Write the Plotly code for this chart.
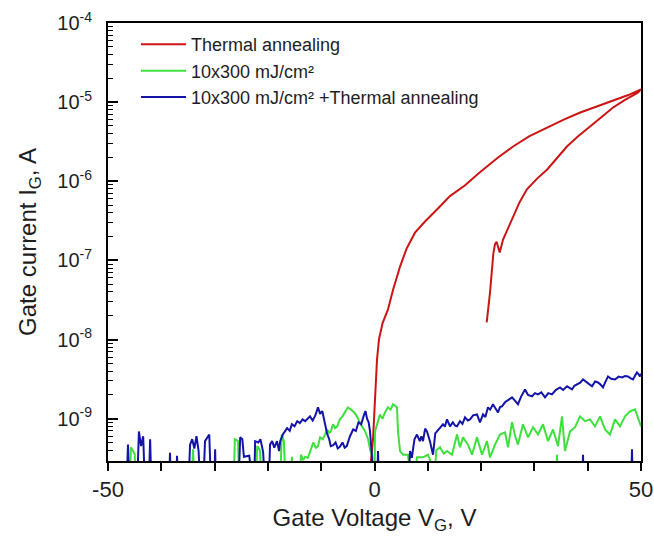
import plotly.graph_objects as go

# ---------------- data ----------------
FLOOR = 1e-10  # values below the visible range (clipped at the axis)

red_x = [-0.9, -0.66, -0.28, 0.09, 0.47, 0.84, 1.5, 2.53, 3.5, 4.78, 6.0, 7.6, 9.47, 12.0, 14.16,
         17.0, 19.5, 23.0, 26.0, 29.0, 32.4, 35.5, 38.6, 41.5, 44.7, 47.5, 50.0,
         49.4, 47.0, 44.7, 42.5, 40.4, 38.2, 36.1, 34.2, 32.4, 30.5, 28.6, 27.2, 26.0, 25.0,
         24.1, 23.5, 22.9, 22.6, 22.3, 21.67, 21.05]
red_y = [1e-10, 2.9e-10, 5.5e-10, 1.74e-9, 5.6e-9, 1.0e-8, 1.6e-8, 2.4e-8, 4.3e-8, 8.3e-8, 1.4e-7,
         2.24e-7, 3.1e-7, 4.6e-7, 6.5e-7, 8.9e-7, 1.25e-6, 1.95e-6, 2.75e-6, 3.7e-6, 4.8e-6,
         6.0e-6, 7.4e-6, 8.7e-6, 1.02e-5, 1.22e-5, 1.45e-5,
         1.32e-5, 1.07e-5, 8.5e-6, 6.4e-6, 4.9e-6, 3.7e-6, 2.75e-6, 1.95e-6, 1.41e-6, 1.08e-6,
         7.9e-7, 5.4e-7, 3.55e-7, 2.5e-7, 1.82e-7, 1.26e-7, 1.72e-7, 1.6e-7, 1.23e-7, 3.9e-8, 1.65e-8]

green_x = [-50, -46.0, -45.7, -45.3, -45.0, -44.6,
           -34.4, -34.05, -33.7,
           -26.5, -26.2, -25.6, -25.3,
           -22.4, -22.0, -21.5, -21.0,
           -17.8, -17.4, -17.0, -16.6,
           -15.8, -15.5, -15.1, -14.2, -13.8, -13.4, -13.0, -12.5, -12.1, -11.5, -11.0, -10.6,
           -10.2, -9.7, -9.3, -8.9, -8.5, -8.2, -7.8, -7.4, -7.0, -6.5, -6.0, -5.5, -5.0, -4.4,
           -3.8, -3.3, -2.6, -1.8, -1.2, -0.8, -0.4, -0.2,
           0.0, 0.09, 0.5, 1.03, 1.5, 1.97, 2.53, 3.0, 3.47, 3.9, 4.22, 4.41, 4.79, 5.35, 6.29,
           7.04, 7.97, 9.1, 10.04, 10.5, 10.98, 11.6, 12.29, 13.0, 13.6, 14.54, 15.48, 16.04,
           16.61, 17.54, 18.29, 19.23, 20.17, 21.11, 21.67, 22.61, 23.55, 24.49, 25.05, 25.8,
           26.4, 26.92, 27.86, 28.8, 29.74, 30.68, 31.61, 32.55, 33.49, 34.43, 35.18, 35.74,
           36.68, 37.62, 38.56, 39.5, 40.43, 41.37, 42.31, 43.25, 44.19, 45.12, 46.06, 47.0,
           47.94, 48.88, 49.44, 49.81, 50.0,
           None, 34.0, 34.24, 34.5]
green_y = [FLOOR, FLOOR, 4.35e-10, 3.8e-10, 3.6e-10, FLOOR,
           FLOOR, 4.1e-10, FLOOR,
           FLOOR, 5.5e-10, 5.2e-10, FLOOR,
           FLOOR, 4.5e-10, 4.0e-10, FLOOR,
           FLOOR, 6.3e-10, 5.2e-10, FLOOR,
           FLOOR, 3.3e-10, FLOOR, FLOOR, 3.5e-10, 3.0e-10, 3.3e-10, 3.2e-10, 3.8e-10, 5.0e-10,
           4.3e-10, 4.5e-10,
           5.8e-10, 5.5e-10, 6.3e-10, 7.3e-10, 6.6e-10, 6.9e-10, 8.5e-10, 7.6e-10, 8.0e-10,
           9.8e-10, 1.07e-9, 1.2e-9, 1.39e-9, 1.3e-9,
           1.2e-9, 1.07e-9, 8.5e-10, 7.0e-10, 5.5e-10, 4.0e-10, 3.3e-10, FLOOR,
           FLOOR, 6.9e-10, 8.5e-10, 1.13e-9, 1.0e-9, 1.2e-9, 1.39e-9, 1.3e-9, 1.52e-9, 1.45e-9,
           1.39e-9, 6.9e-10, 3.9e-10, 3.5e-10, 3.5e-10,
           FLOOR, 3.25e-10, 3.25e-10, 3.5e-10, 2.9e-10, FLOOR, 4.0e-10, 4.35e-10, 3.6e-10,
           3.9e-10, 3.5e-10, 6.3e-10, 4.35e-10,
           5.8e-10, 4.7e-10, 3.5e-10, 5.8e-10, 3.5e-10, 5.2e-10, 3.25e-10, 4.7e-10, 6.3e-10,
           6.7e-10, 4.35e-10, 9.0e-10,
           6.0e-10, 4.7e-10, 8.5e-10, 5.8e-10, 7.8e-10, 6.3e-10, 8.5e-10, 5.2e-10, 7.3e-10,
           4.5e-10, 1.07e-9, 3.9e-10,
           6.9e-10, 7.8e-10, 1.07e-9, 9.3e-10, 9.8e-10, 8.0e-10, 1.07e-9, 7.3e-10, 6.3e-10,
           9.8e-10, 8.0e-10, 1.07e-9,
           1.24e-9, 1.31e-9, 1.04e-9, 8.5e-10, 8.0e-10,
           None, FLOOR, 3.5e-10, FLOOR]

blue_x = [-50, -46.6, -46.25, -45.9,
          -44.6, -44.2, -43.8, -43.4, -43.0,
          -42.4, -42.1, -41.8,
          -38.6, -38.37, -38.1,
          -37.3, -37.05, -36.8,
          -35.0, -34.6, -34.2, -33.8, -33.4, -33.0, -32.6,
          -32.2, -31.8, -31.0, -30.6,
          -30.1, -29.9, -29.7,
          -25.6, -25.2, -24.8, -24.5, -23.5, -22.8,
          -22.6, -22.4, -21.8, -21.4, -20.9, -20.4, -19.9,
          -19.6, -19.2, -18.8, -18.3, -17.9, -17.7, -17.2, -16.8, -16.4, -15.9, -15.5, -15.0,
          -14.5, -14.0, -13.5, -13.0, -12.5, -12.1, -11.6, -11.1, -10.6, -10.2, -9.8, -9.3,
          -8.9, -8.5, -8.2, -7.8, -7.3, -6.9, -6.5, -6.0, -5.6, -5.2, -4.6, -4.0, -3.5, -3.0,
          -2.5, -2.0, -1.7, -1.4, -1.1, -0.84, -0.5, -0.3,
          0.4, 0.66, 0.9,
          6.3, 6.66, 7.0, 7.5, 7.97, 8.5, 8.8, 9.1, 9.5, 9.85, 10.4, 10.98, 11.4, 11.73, 12.3,
          12.85, 13.2, 13.6, 14.17, 14.7, 15.1, 15.48, 16.04, 16.5, 16.98, 17.5, 17.92, 18.5,
          19.23, 19.79, 20.36, 20.8, 21.29, 21.7, 22.23, 22.7, 23.17, 23.55, 23.92, 24.49, 25.0,
          25.8, 26.3, 26.92, 27.5, 28.24, 28.8, 29.55, 30.1, 30.68, 31.3, 31.99, 32.6, 33.3,
          34.0, 34.8, 35.4, 36.12, 36.6, 37.06, 37.5, 37.99, 38.6, 39.12, 39.8, 40.4, 40.81,
          41.4, 41.93, 42.4, 42.87, 43.3, 43.81, 44.4, 45.12, 45.8, 46.44, 47.0, 47.56, 48.0,
          48.5, 48.9, 49.25, 49.6, 49.81, 50.0,
          None, 38.9, 39.12, 39.3, None, 48.1, 48.31, 48.5]
blue_y = [FLOOR, FLOOR, 4.7e-10, FLOOR,
          FLOOR, 6.9e-10, 4.5e-10, 6.0e-10, FLOOR,
          FLOOR, 5.5e-10, FLOOR,
          FLOOR, 3.7e-10, FLOOR,
          FLOOR, 3.4e-10, FLOOR,
          FLOOR, 4.7e-10, 5.5e-10, 4.2e-10, 6.0e-10, 3.9e-10, FLOOR,
          FLOOR, 5.2e-10, 6.3e-10, FLOOR,
          FLOOR, 4.1e-10, FLOOR,
          FLOOR, 5.8e-10, 5.5e-10, 3.3e-10, 3.4e-10, FLOOR,
          FLOOR, 5.2e-10, 5.0e-10, 5.5e-10, 3.8e-10, FLOOR, FLOOR,
          4.7e-10, 5.2e-10, 4.3e-10, 5.2e-10, 3.9e-10, 5.2e-10, 6.3e-10, 7.0e-10, 7.6e-10,
          7.0e-10, 8.5e-10, 8.0e-10,
          9.3e-10, 8.8e-10, 9.8e-10, 9.3e-10, 1.0e-9, 1.07e-9, 9.5e-10, 1.1e-9, 1.39e-9,
          1.15e-9, 1.25e-9, 9.0e-10,
          6.5e-10, 5.5e-10, 4.5e-10, 4.6e-10, 5.0e-10, 4.2e-10, 4.4e-10, 5.0e-10, 4.3e-10,
          4.5e-10, 6.0e-10, 7.3e-10, 7.0e-10, 9.0e-10,
          8.5e-10, 1.1e-9, 1.25e-9, 1.0e-9, 9.0e-10, 6.9e-10, 3.5e-10, FLOOR,
          FLOOR, 3.9e-10, FLOOR,
          FLOOR, 3.9e-10, 3.2e-10, 5.5e-10, 6.3e-10, 5.2e-10, 6.0e-10, 5.2e-10, 7.5e-10,
          6.9e-10, 5.2e-10, 3.5e-10, 6.5e-10, 6.9e-10, 7.8e-10,
          8.5e-10, 7.9e-10, 9.8e-10, 8.0e-10, 9.0e-10, 8.2e-10, 8.0e-10, 9.3e-10, 8.6e-10,
          1.04e-9, 9.5e-10, 9.8e-10, 1.1e-9,
          1.13e-9, 9.0e-10, 1.13e-9, 1.05e-9, 1.39e-9, 1.3e-9, 1.52e-9, 1.35e-9, 1.2e-9,
          1.4e-9, 1.43e-9, 1.61e-9, 1.7e-9,
          1.86e-9, 1.7e-9, 1.52e-9, 1.9e-9, 2.34e-9, 2.0e-9, 1.91e-9, 2.1e-9, 2.03e-9,
          2.15e-9, 1.86e-9, 2.1e-9, 2.03e-9,
          2.3e-9, 2.48e-9, 2.3e-9, 2.56e-9, 2.45e-9, 2.34e-9, 2.6e-9, 2.71e-9, 2.85e-9,
          3.13e-9, 2.9e-9, 2.75e-9, 2.56e-9,
          2.95e-9, 2.87e-9, 2.7e-9, 2.48e-9, 2.9e-9, 3.42e-9, 3.2e-9, 3.13e-9, 3.4e-9,
          3.32e-9, 3.45e-9, 3.42e-9, 3.25e-9,
          3.13e-9, 3.5e-9, 3.84e-9, 3.6e-9, 3.42e-9, 3.7e-9,
          None, FLOOR, 3.5e-10, FLOOR, None, FLOOR, 4.1e-10, FLOOR]

series_names = ["Thermal annealing",
                "10x300 mJ/cm²",
                "10x300 mJ/cm² +Thermal annealing"]
y_tick_vals = [1e-9, 1e-8, 1e-7, 1e-6, 1e-5, 1e-4]
y_tick_text = ["10<sup>-9</sup>", "10<sup>-8</sup>", "10<sup>-7</sup>",
               "10<sup>-6</sup>", "10<sup>-5</sup>", "10<sup>-4</sup>"]
x_tick_vals = [-50, 0, 50]
x_tick_text = ["-50", "0", "50"]
x_minor_vals = [-40, -30, -20, -10, 10, 20, 30, 40]
y_minor_vals = [k * 10.0 ** e for e in range(-10, -4) for k in range(2, 10)]

# ---------------- figure ----------------
FONT = "Liberation Sans, Arial, sans-serif"
TXT = "#1e1e1e"
colors = ["#cc1414", "#3ee03e", "#1414a8"]

fig = go.Figure()
for name, xs, ys, c in [(series_names[0], red_x, red_y, colors[0]),
                        (series_names[1], green_x, green_y, colors[1]),
                        (series_names[2], blue_x, blue_y, colors[2])]:
    fig.add_trace(go.Scatter(x=xs, y=ys, mode="lines", name=name,
                             line=dict(color=c, width=2), connectgaps=False))

fig.update_layout(
    width=654, height=542,
    margin=dict(l=108, r=13, t=23, b=81, autoexpand=False),
    paper_bgcolor="white", plot_bgcolor="white",
    font=dict(family=FONT, color=TXT),
    showlegend=True,
    legend=dict(x=0.0525, y=0.993, xanchor="left", yanchor="top",
                font=dict(family=FONT, size=18, color=TXT), itemwidth=45,
                bgcolor="rgba(0,0,0,0)", borderwidth=0, tracegroupgap=0),
)
fig.update_xaxes(
    range=[-50, 50], showgrid=False, zeroline=False, automargin=False,
    showline=True, linecolor="black", linewidth=2, mirror=True,
    tickmode="array", tickvals=x_tick_vals, ticktext=x_tick_text,
    ticks="outside", ticklen=8, tickwidth=1.5, tickcolor="black",
    minor=dict(tickmode="array", tickvals=x_minor_vals, ticks="outside", ticklen=8,
               tickwidth=1.5, tickcolor="black"),
    tickfont=dict(family=FONT, size=22, color=TXT),
    title=dict(text="Gate Voltage V<sub>G</sub>, V", font=dict(family=FONT, size=24, color=TXT),
               standoff=8),
)
fig.update_yaxes(
    type="log", range=[-9.535, -4], showgrid=False, zeroline=False, automargin=False,
    showline=True, linecolor="black", linewidth=2, mirror=True,
    tickmode="array", tickvals=y_tick_vals, ticktext=y_tick_text,
    ticks="inside", ticklen=10, tickwidth=1.5, tickcolor="black",
    minor=dict(tickmode="array", tickvals=y_minor_vals, ticks="inside", ticklen=5,
               tickwidth=1.2, tickcolor="black"),
    ticklabelstandoff=10,
    tickfont=dict(family=FONT, size=20, color=TXT),
    title=dict(text="Gate current I<sub>G</sub>, A", font=dict(family=FONT, size=24, color=TXT),
               standoff=14),
)

fig.write_html("out.html", config={"displayModeBar": False},
               post_script="document.body.style.margin='0';")
